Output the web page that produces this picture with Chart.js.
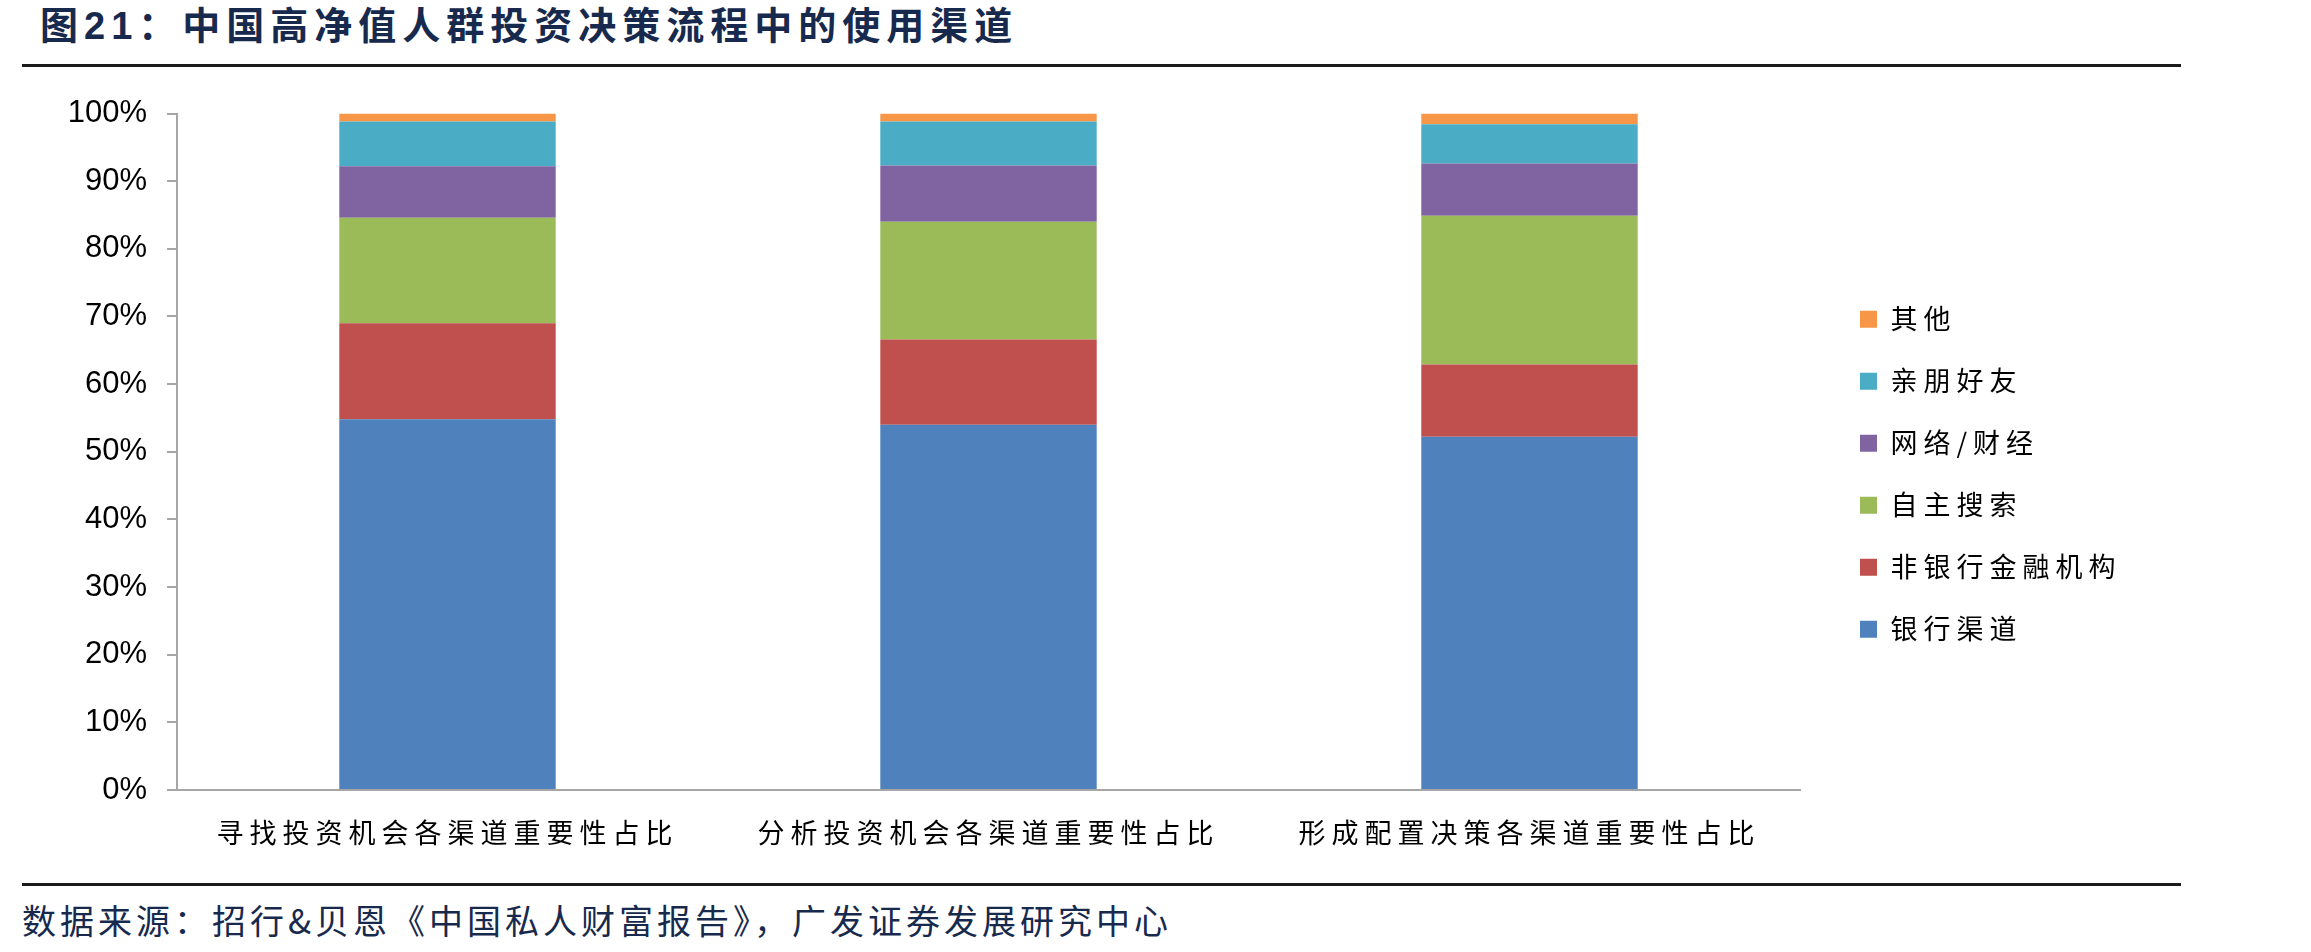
<!DOCTYPE html>
<html>
<head>
<meta charset="utf-8">
<script src="https://cdn.jsdelivr.net/npm/chart.js@4/dist/chart.umd.min.js"></script>
<style>
html,body{margin:0;padding:0;background:#fff;}
#wrap{position:relative;width:2311px;height:952px;overflow:hidden;background:#fff;}
#title{position:absolute;left:40px;top:1px;height:50px;line-height:50px;font-family:"Liberation Sans","Noto Sans CJK SC",sans-serif;font-weight:700;font-size:38px;letter-spacing:6px;color:#172a4e;white-space:nowrap;}
.rule{position:absolute;left:22px;width:2159px;height:3px;background:#1a1a1a;}
#source{position:absolute;left:22px;top:898px;height:44px;line-height:44px;font-family:"Noto Sans CJK SC",sans-serif;font-size:34px;letter-spacing:4px;color:#172a4e;white-space:nowrap;}
#chartBox{position:absolute;left:0;top:70px;width:2311px;height:800px;}
</style>
</head>
<body>
<div id="wrap">
  <div id="title">图21：中国高净值人群投资决策流程中的使用渠道</div>
  <div class="rule" style="top:64px"></div>
  <div id="chartBox"><canvas id="c" width="2311" height="800"></canvas></div>
  <div class="rule" style="top:883px"></div>
  <div id="source">数据来源：招行&amp;贝恩《中国私人财富报告》，广发证券发展研究中心</div>
</div>
<script>
// ---- data ----
const categories = ['寻找投资机会各渠道重要性占比', '分析投资机会各渠道重要性占比', '形成配置决策各渠道重要性占比'];
const seriesNames = ['银行渠道', '非银行金融机构', '自主搜索', '网络/财经', '亲朋好友', '其他'];
const bankChannel   = [54.8, 54.0, 52.2];
const nonBankInst   = [14.2, 12.6, 10.7];
const selfSearch    = [15.6, 17.4, 22.0];
const webFinance    = [7.6, 8.3, 7.7];
const friendsFamily = [6.6, 6.5, 5.8];
const otherChannel  = [1.2, 1.2, 1.6];
const seriesColors = ['#4F81BD', '#C0504D', '#9BBB59', '#8064A2', '#4BACC6', '#F79646'];
const yTickSuffix = '%';

const seriesData = [bankChannel, nonBankInst, selfSearch, webFinance, friendsFamily, otherChannel];

const CJK = '"Noto Sans CJK SC", sans-serif';
const AXIS = '#a6a6a6';
const SPACING = '6px';

// letter spacing for CJK texts (legend & category labels), none for numeric ticks
const spacingPlugin = {
  id: 'cjkSpacing',
  beforeLayout(chart) { chart.ctx.letterSpacing = SPACING; },
  afterLayout(chart) { chart.ctx.letterSpacing = '0px'; },
  beforeDraw(chart) { chart.ctx.letterSpacing = SPACING; },
  beforeDatasetsDraw(chart) { chart.ctx.letterSpacing = '0px'; },
  afterDraw(chart) { chart.ctx.letterSpacing = '0px'; }
};

const chart = new Chart(document.getElementById('c').getContext('2d'), {
  type: 'bar',
  data: {
    labels: categories,
    datasets: seriesNames.map((name, i) => ({
      label: name,
      data: seriesData[i],
      backgroundColor: seriesColors[i],
      borderWidth: 0,
      categoryPercentage: 1,
      barPercentage: 0.4
    }))
  },
  options: {
    responsive: false,
    animation: false,
    devicePixelRatio: 1,
    layout: { padding: { top: 43.5, right: 235, bottom: 20, left: 0 } },
    plugins: {
      tooltip: { enabled: false },
      title: { display: false },
      legend: {
        position: 'right',
        align: 'center',
        fullSize: false,
        reverse: true,
        title: { display: true, text: '', font: { size: 12 }, padding: { top: 30.5, bottom: 0 } },
        labels: {
          boxWidth: 17,
          boxHeight: 17,
          padding: 35,
          color: '#000',
          font: { family: CJK, size: 27 }
        }
      }
    },
    scales: {
      x: {
        stacked: true,
        grid: { display: false, drawTicks: false },
        border: { display: true, color: AXIS, width: 2 },
        ticks: { color: '#000', font: { family: CJK, size: 27 }, padding: 27, maxRotation: 0, autoSkip: false }
      },
      y: {
        stacked: true,
        min: 0,
        max: 100,
        grid: { display: true, drawOnChartArea: false, drawTicks: true, tickLength: 10, color: AXIS, lineWidth: 2 },
        border: { display: true, color: AXIS, width: 2 },
        ticks: {
          stepSize: 10,
          padding: 20,
          z: 1,
          color: '#000',
          font: { family: '"Liberation Sans", Arial, sans-serif', size: 31 },
          callback: v => v + yTickSuffix
        }
      },
      y2: {
        type: 'linear',
        position: 'right',
        display: true,
        grid: { display: false, drawTicks: false },
        border: { display: false },
        ticks: { display: false },
        afterFit(s) { s.width = 25; }
      }
    }
  },
  plugins: [spacingPlugin]
});

// fit the plot area to the reference frame (canvas coordinates)
const target = { left: 177, right: 1800, top: 43.5, bottom: 720 };
const pad = chart.options.layout.padding;
for (let k = 0; k < 5; k++) {
  const a = chart.chartArea;
  pad.top += target.top - a.top;
  pad.bottom += a.bottom - target.bottom;
  pad.left += target.left - a.left;
  pad.right += a.right - target.right;
  chart.update('none');
}
</script>
</body>
</html>
